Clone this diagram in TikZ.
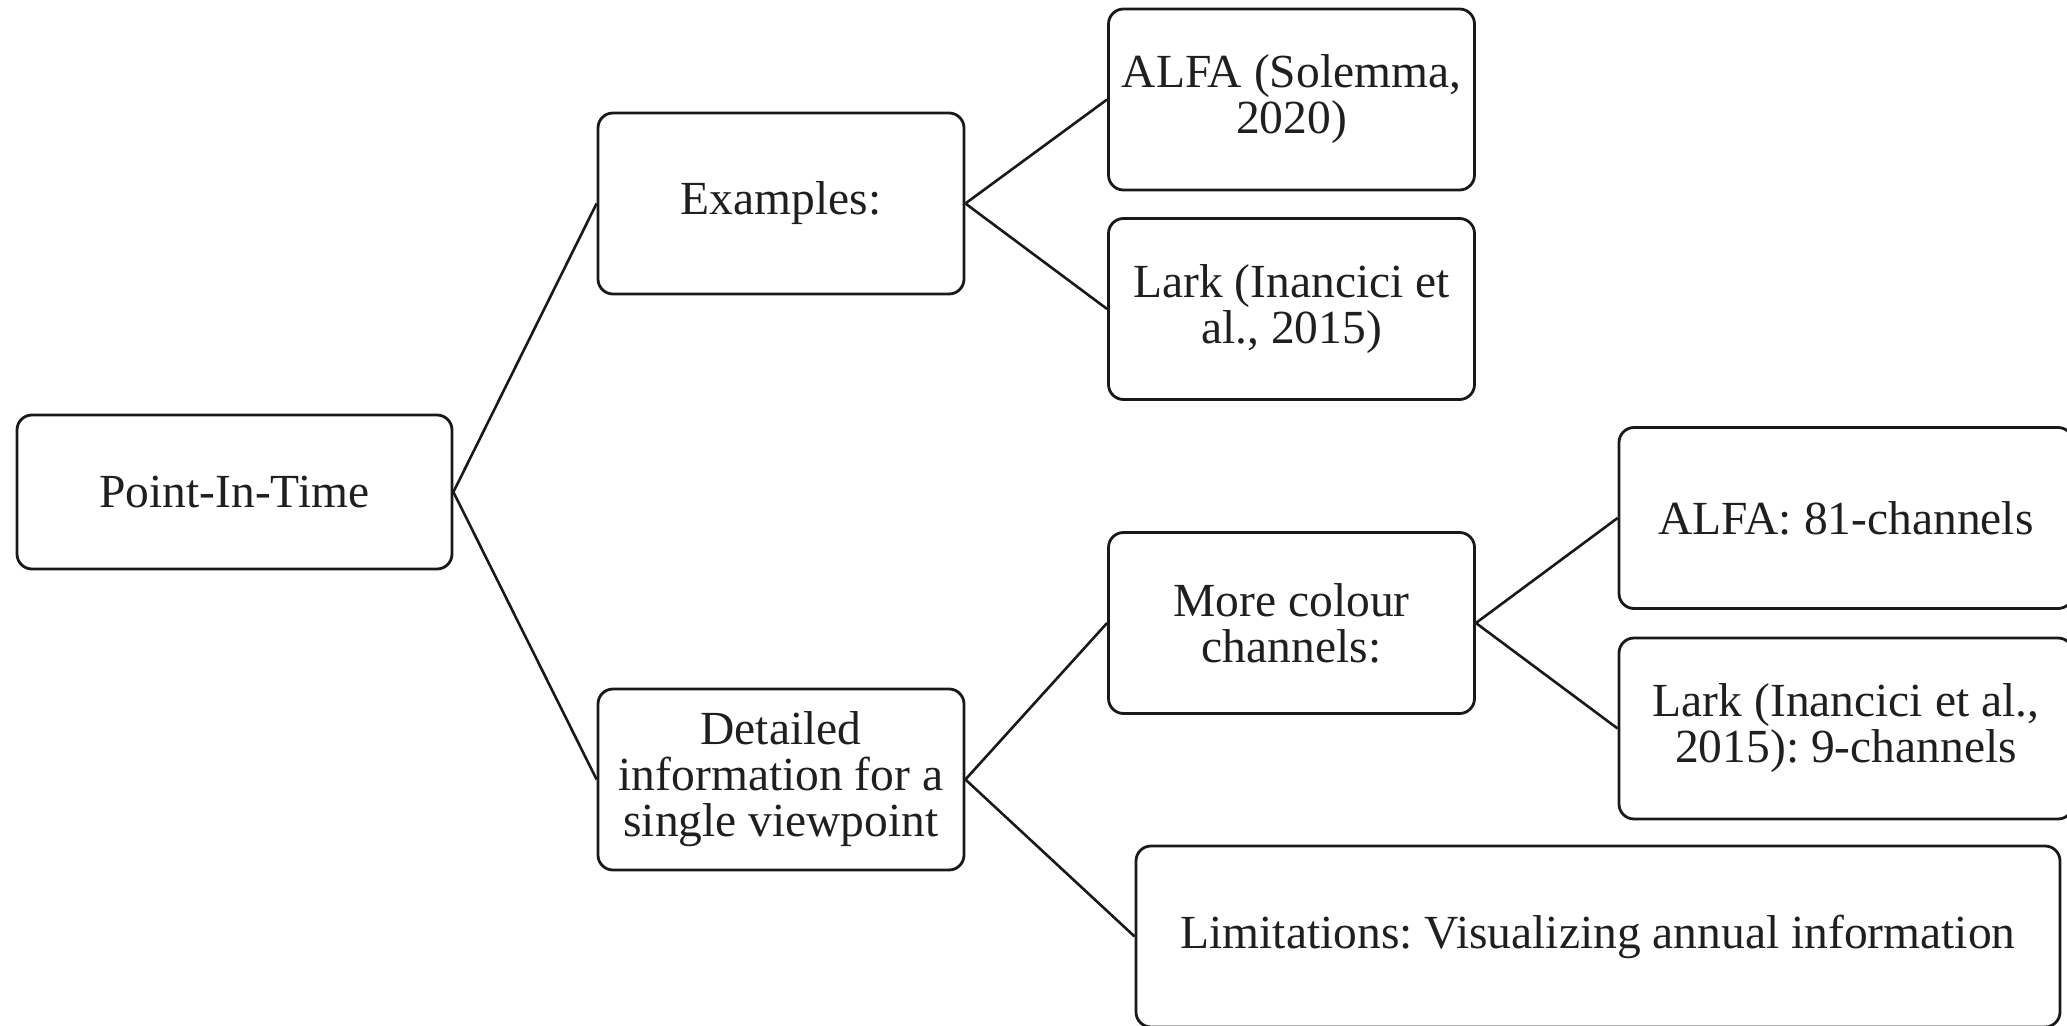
\documentclass[tikz,border=0pt]{standalone}
\usepackage{fontspec}
\setmainfont{Liberation Serif}
\frenchspacing
\begin{document}
\begin{tikzpicture}[x=0.5pt,y=-0.5pt,
  box/.style={draw=black!90, line width=1.4pt, rounded corners=7.5pt, align=center,
    inner sep=0pt, text=black!88, font=\fontsize{23.75}{23}\selectfont},
  mid/.style={box, minimum width=183pt, minimum height=90.5pt},
  wide/.style={box, minimum width=227pt, minimum height=90.5pt},
  link/.style={draw=black!90, line width=1.3pt}]
\useasboundingbox (0,0) rectangle (2067,1026);
\node[box, minimum width=217.5pt, minimum height=77pt] (pit) at (234.5,492) {Point-In-Time};
\node[mid] (ex) at (781,203.5) {Examples:};
\node[mid] (alfa) at (1291.5,99.5) {ALFA (Solemma,\\2020)};
\node[mid] (lark) at (1291.5,309) {Lark (Inancici et\\al., 2015)};
\node[mid] (det) at (781,779.5) {Detailed\\information for a\\single viewpoint};
\node[mid] (more) at (1291.5,623) {More colour\\channels:};
\node[wide] (a81) at (1846,518) {ALFA: 81-channels};
\node[wide] (l9) at (1846,728.5) {Lark (Inancici et al.,\\2015): 9-channels};
\node[box, minimum width=462pt, minimum height=90.5pt] (lim) at (1598,936.5) {Limitations: Visualizing annual information};
\draw[link] (pit.east) -- (ex.west);
\draw[link] (pit.east) -- (det.west);
\draw[link] (ex.east) -- (alfa.west);
\draw[link] (ex.east) -- (lark.west);
\draw[link] (det.east) -- (more.west);
\draw[link] (det.east) -- (lim.west);
\draw[link] (more.east) -- (a81.west);
\draw[link] (more.east) -- (l9.west);
\end{tikzpicture}
\end{document}
